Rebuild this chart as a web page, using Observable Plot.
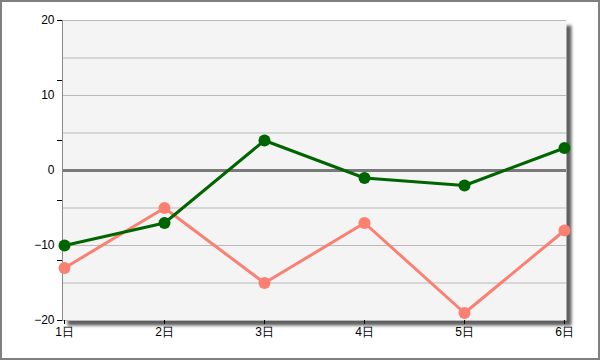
<!DOCTYPE html>
<html><head><meta charset="utf-8">
<script src="https://cdn.jsdelivr.net/npm/d3@7"></script>
<script src="https://cdn.jsdelivr.net/npm/@observablehq/plot@0.6"></script>
<style>
body{margin:0;background:#fff;}
#chart{width:600px;height:360px;position:relative;box-sizing:border-box;}
#chart svg{display:block;}
#border{position:absolute;left:0;top:0;width:600px;height:360px;box-sizing:border-box;border:2px solid #808080;pointer-events:none;}
</style></head>
<body><div id="chart"><div id="border"></div></div>
<script>
const days = ["1日","2日","3日","4日","5日","6日"];
const greenValues = [-10,-7,4,-1,-2,3];
const salmonValues = [-13,-5,-15,-7,-19,-8];
const yLabelTicks = [20,10,0,-10,-20];
const yMarkTicks = [20,12,4,-4,-12,-20];
const gridValues = [20,15,10,5,-5,-10,-15,-20];

const green = days.map((d,i)=>({day:d, value:greenValues[i]}));
const salmon = days.map((d,i)=>({day:d, value:salmonValues[i]}));

const chart = Plot.plot({
  width:600, height:360,
  marginLeft:62, marginRight:34, marginTop:20, marginBottom:40,
  style:{fontFamily:"'Liberation Sans', Arial, sans-serif", fontSize:"12px", color:"#000", background:"transparent", overflow:"visible"},
  x:{type:"point", domain:days, padding:0},
  y:{domain:[-20,20]},
  marks:[
    Plot.frame({fill:"#f4f4f4", stroke:null, ariaLabel:"plotbg"}),
    Plot.gridY(gridValues,{stroke:"#b9b9b9", strokeOpacity:1}),
    Plot.ruleY([0],{stroke:"#7a7a7a", strokeWidth:3}),
    Plot.frame({anchor:"left", stroke:"#8a8a8a", ariaLabel:"yline"}),
    Plot.axisY(yLabelTicks,{tickSize:0, tickPadding:8, label:null}),
    Plot.axisY(yMarkTicks,{tickSize:5, tickFormat:()=>"", label:null}),
    Plot.axisX({tickSize:4, tickPadding:3, label:null}),
    Plot.line(salmon,{x:"day", y:"value", stroke:"#fa8072", strokeWidth:3}),
    Plot.dot(salmon,{x:"day", y:"value", fill:"#fa8072", r:6}),
    Plot.line(green,{x:"day", y:"value", stroke:"#006400", strokeWidth:3}),
    Plot.dot(green,{x:"day", y:"value", fill:"#006400", r:6})
  ]
});
const bg = chart.querySelector('[aria-label="plotbg"]');
if (bg) bg.style.filter = "drop-shadow(5px 5px 1.5px rgba(40,40,40,0.75))";
document.getElementById("chart").prepend(chart);
</script>
</body></html>
